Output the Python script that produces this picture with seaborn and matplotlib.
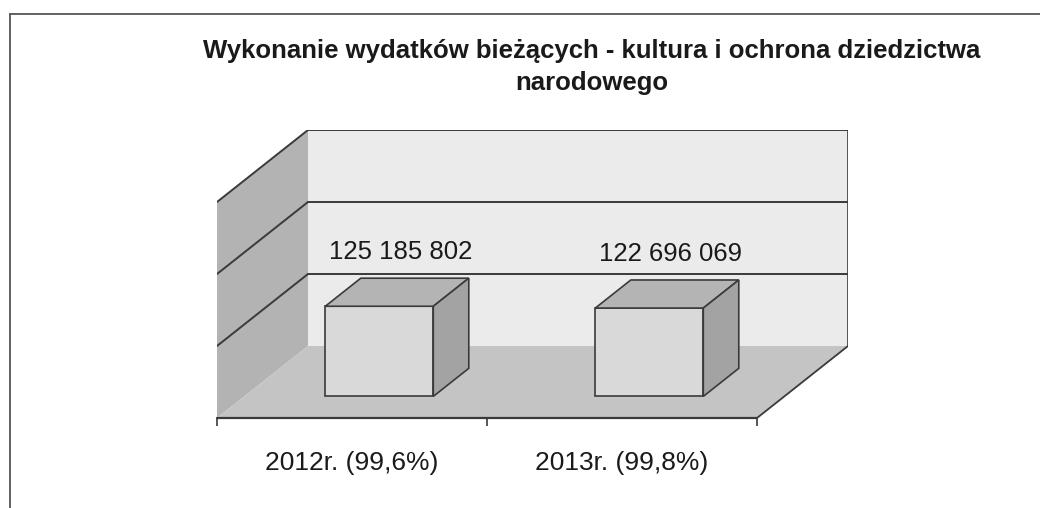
import matplotlib
matplotlib.use("Agg")
import matplotlib.pyplot as plt
from matplotlib.patches import Polygon
from matplotlib.lines import Line2D
import seaborn as sns
import pandas as pd

# ---------- data ----------
categories = ["2012r. (99,6%)", "2013r. (99,8%)"]
values = [125185802, 122696069]
value_labels = ["125 185 802", "122 696 069"]
grid_levels = [100e6, 200e6, 300e6]
title = "Wykonanie wydatków bieżących - kultura i ochrona dziedzictwa\nnarodowego"

# ---------- pseudo 3D geometry (depth in data units) ----------
DX = 0.337          # full floor depth, x
DY = 100e6          # full floor depth, y
BAR_FRONT = 0.30    # depth fraction of bar front face
BAR_DEPTH = 0.39    # depth fraction taken by bar
BAR_W = 0.40
WALL_TOP = grid_levels[-1]

BACK_WALL = "#ebebeb"
SIDE_WALL = "#b3b3b3"
FLOOR = "#c4c4c4"
BAR_FRONT_C = "#d9d9d9"
BAR_TOP_C = "#b4b4b4"
BAR_SIDE_C = "#a3a3a3"
LINE = "#3a3a3a"

sns.set_style("white")
plt.rcParams["font.family"] = ["Liberation Sans", "DejaVu Sans"]

fig = plt.figure(figsize=(10.4, 5.08), dpi=100)
ax = fig.add_axes([217 / 1040, 90 / 508, 631 / 1040, 288 / 508])

# front faces through seaborn
df = pd.DataFrame({"rok": categories, "wydatki": values})
base = BAR_FRONT * DY
sns.barplot(data=df, x="rok", y="wydatki", color=BAR_FRONT_C, width=BAR_W,
            bottom=base, edgecolor=LINE, linewidth=1.2, saturation=1, ax=ax, zorder=3)
bars = list(ax.patches)

ax.set_xlim(-0.5, 1.5 + DX)
ax.set_ylim(0, WALL_TOP + DY)

# walls and floor
x0, x1 = -0.5, 1.5
ax.add_patch(Polygon([(x0 + DX, DY), (x1 + DX, DY), (x1 + DX, DY + WALL_TOP), (x0 + DX, DY + WALL_TOP)],
                     closed=True, facecolor=BACK_WALL, edgecolor="none", zorder=0))
ax.add_patch(Polygon([(x0, 0), (x0, WALL_TOP), (x0 + DX, DY + WALL_TOP), (x0 + DX, DY)],
                     closed=True, facecolor=SIDE_WALL, edgecolor="none", zorder=0))
ax.add_patch(Polygon([(x0, 0), (x1, 0), (x1 + DX, DY), (x0 + DX, DY)],
                     closed=True, facecolor=FLOOR, edgecolor="none", zorder=0.5))

for g in grid_levels:
    ax.add_line(Line2D([x0 + DX, x1 + DX], [DY + g, DY + g], color=LINE, lw=1.4, zorder=0.6))
    ax.add_line(Line2D([x0, x0 + DX], [g, DY + g], color=LINE, lw=1.4, zorder=0.6))
ax.add_line(Line2D([x1 + DX, x1 + DX], [DY, DY + WALL_TOP], color=LINE, lw=1.2, zorder=0.6))
ax.add_line(Line2D([x0, x1], [0, 0], color=LINE, lw=1.6, zorder=0.6, clip_on=False))
ax.add_line(Line2D([x1, x1 + DX], [0, DY], color=LINE, lw=1.3, zorder=0.6))

ddx, ddy = BAR_DEPTH * DX, BAR_DEPTH * DY
for p, lab in zip(bars, value_labels):
    p.set_x(p.get_x() + BAR_FRONT * DX)
    bx0, bx1 = p.get_x(), p.get_x() + p.get_width()
    by0, by1 = p.get_y(), p.get_y() + p.get_height()
    ax.add_patch(Polygon([(bx0, by1), (bx1, by1), (bx1 + ddx, by1 + ddy), (bx0 + ddx, by1 + ddy)],
                         closed=True, facecolor=BAR_TOP_C, edgecolor=LINE, lw=1.2, zorder=3))
    ax.add_patch(Polygon([(bx1, by0), (bx1 + ddx, by0 + ddy), (bx1 + ddx, by1 + ddy), (bx1, by1)],
                         closed=True, facecolor=BAR_SIDE_C, edgecolor=LINE, lw=1.2, zorder=3))
    ax.annotate(lab, xy=((bx0 + bx1) / 2 + ddx * 0.6, by1 + ddy), xytext=(0, 19),
                textcoords="offset points", ha="center", va="center", fontsize=18.5, color="#1a1a1a")

# axis styling
for s in ax.spines.values():
    s.set_visible(False)
ax.set_xlabel("")
ax.set_ylabel("")
ax.set_yticks([])
ax.set_xticks([0, 1])
ax.set_xticklabels(categories)
ax.tick_params(axis="x", which="major", bottom=True, length=0, pad=24, labelsize=19, labelcolor="#1a1a1a")
ax.set_xticks([-0.5, 0.5, 1.5], minor=True)
ax.tick_params(axis="x", which="minor", bottom=True, length=5.5, width=1.2, color=LINE, direction="out")

# title and page frame
fig.text(0.569, 1 - 67 / 508, title, ha="center", va="center", fontsize=18.5,
         fontweight="bold", color="#1a1a1a", linespacing=1.42)
fig.add_artist(Line2D([10 / 1040, 1], [1 - 14 / 508] * 2, color="#555555", lw=1.3))
fig.add_artist(Line2D([10 / 1040] * 2, [0, 1 - 14 / 508], color="#555555", lw=1.3))

fig.savefig("out.png", dpi=100)
